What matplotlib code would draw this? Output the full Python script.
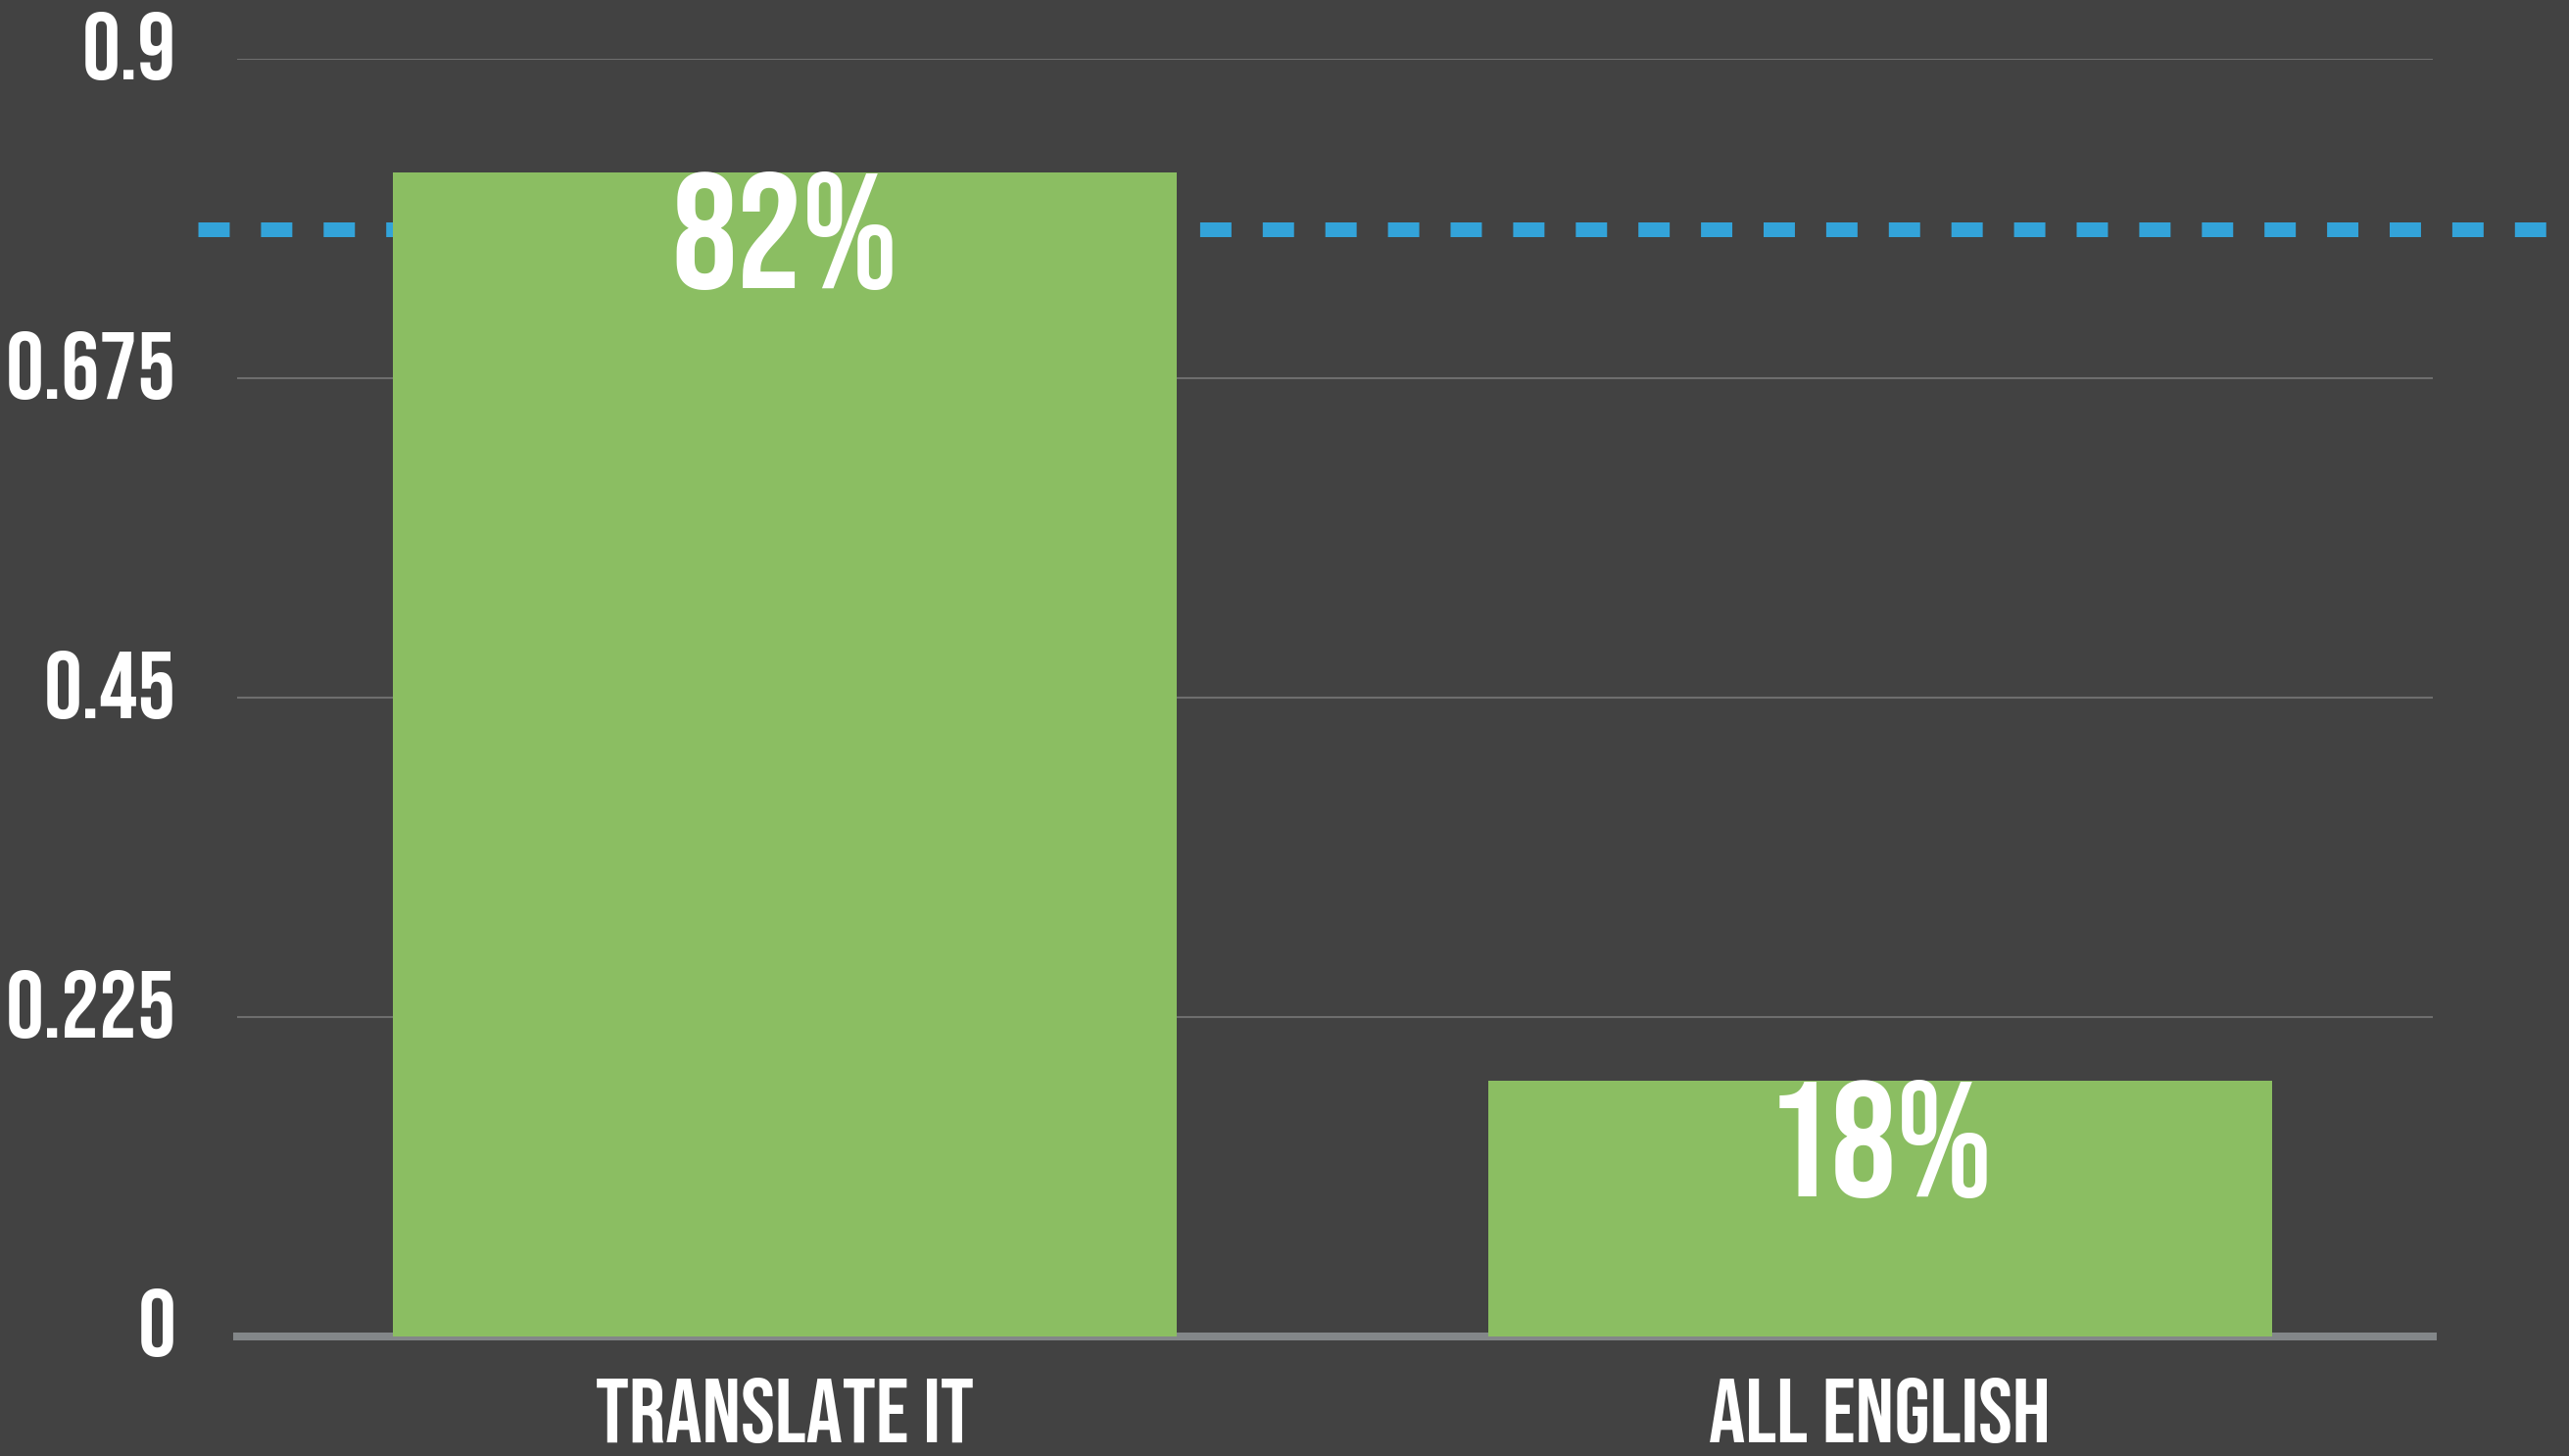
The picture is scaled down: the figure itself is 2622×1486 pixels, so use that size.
import numpy as np
import matplotlib.pyplot as plt
import matplotlib.transforms as mtransforms

# dados
categorias = ['TRANSLATE IT', 'ALL ENGLISH']
valores = [0.82, 0.18]
rotulos = ['82%', '18%']
referencia = 0.78
yticks = [0, 0.225, 0.45, 0.675, 0.9]
yticklabels = ['0', '0.225', '0.45', '0.675', '0.9']

fundo = '#424242'
verde = '#8bbe62'
azul = '#33a3d9'
fonte = ['Bebas Neue', 'Barlow Condensed', 'DejaVu Sans']

fig = plt.figure(figsize=(26.22, 14.86), dpi=100, facecolor=fundo)
ax = fig.add_axes([0.0923, 0.0821, 0.8548, 0.8775])
ax.set_facecolor(fundo)

x = np.arange(len(categorias))
ax.bar(x, valores, width=0.716, color=verde, zorder=3)

# linha de referencia tracejada (atras das barras, passa das bordas do eixo)
linha = ax.axhline(referencia, xmin=-0.018, xmax=1.07, color=azul, lw=10.8,
                   clip_on=False, zorder=2)
linha.set_dashes((2.13, 2.13))
linha.set_dash_capstyle('butt')

for xi, v, r in zip(x, valores, rotulos):
    ax.annotate(r, (xi, v), xytext=(0, -85), textcoords='offset points',
                ha='center', va='baseline', color='white', fontsize=120,
                family=fonte, zorder=4)

ax.set_xlim(-0.5, 1.505)
ax.set_ylim(0, 0.9)
ax.set_yticks(yticks)
ax.set_yticklabels(yticklabels)
ax.set_xticks(x)
ax.set_xticklabels(categorias)

ax.yaxis.grid(True, color='#6e6e6e', lw=1.5, zorder=0)
ax.set_axisbelow(True)
for s in ['top', 'right', 'left']:
    ax.spines[s].set_visible(False)
ax.spines['bottom'].set_color('#838789')
ax.spines['bottom'].set_linewidth(5.8)
ax.spines['bottom'].set_zorder(2.5)

ax.tick_params(axis='y', length=0, pad=45)
ax.tick_params(axis='x', length=0, pad=30)
for lab in ax.get_yticklabels():
    lab.set_fontsize(70)
    lab.set_family(fonte)
    lab.set_color('white')
    lab.set_transform(lab.get_transform() + mtransforms.ScaledTranslation(0, 14 / 100, fig.dpi_scale_trans))
for lab in ax.get_xticklabels():
    lab.set_fontsize(67)
    lab.set_family(fonte)
    lab.set_color('white')

fig.savefig('out.png', dpi=100, facecolor=fundo)
